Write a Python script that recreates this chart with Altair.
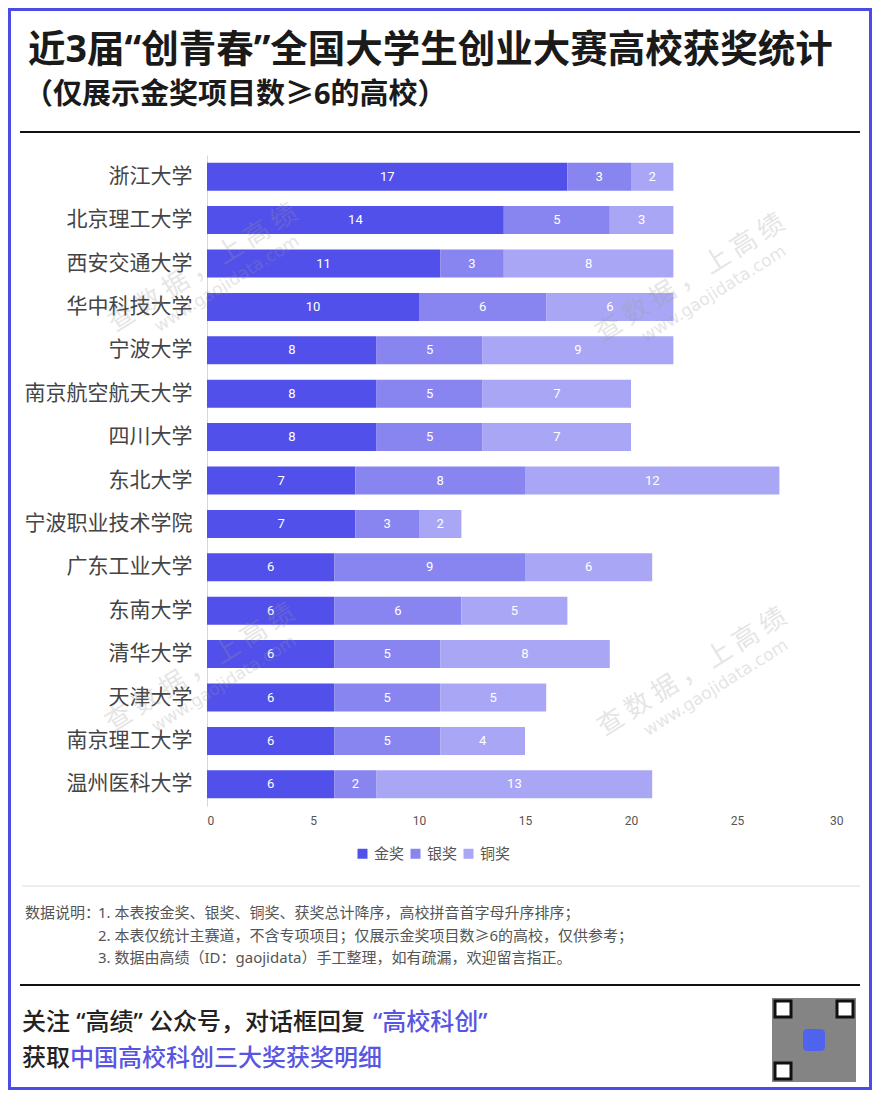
import altair as alt
import pandas as pd

schools = ["浙江大学", "北京理工大学", "西安交通大学", "华中科技大学", "宁波大学",
           "南京航空航天大学", "四川大学", "东北大学", "宁波职业技术学院", "广东工业大学",
           "东南大学", "清华大学", "天津大学", "南京理工大学", "温州医科大学"]
gold = [17, 14, 11, 10, 8, 8, 8, 7, 7, 6, 6, 6, 6, 6, 6]
silver = [3, 5, 3, 6, 5, 5, 5, 8, 3, 9, 6, 5, 5, 5, 2]
bronze = [2, 3, 8, 6, 9, 7, 7, 12, 2, 6, 5, 8, 5, 4, 13]
awards = ["金奖", "银奖", "铜奖"]
colors = ["#5250EB", "#8885F1", "#A9A7F5"]
x_ticks = [0, 5, 10, 15, 20, 25, 30]

title_text = "近3届“创青春”全国大学生创业大赛高校获奖统计"
subtitle_text = "（仅展示金奖项目数≥6的高校）"
notes_head = "数据说明："
notes = ["1. 本表按金奖、银奖、铜奖、获奖总计降序，高校拼音首字母升序排序；",
         "2. 本表仅统计主赛道，不含专项项目；仅展示金奖项目数≥6的高校，仅供参考；",
         "3. 数据由高绩（ID：gaojidata）手工整理，如有疏漏，欢迎留言指正。"]
footer1_black = "关注 “高绩” 公众号，对话框回复"
footer1_blue = "“高校科创”"
footer2_black = "获取"
footer2_blue = "中国高校科创三大奖获奖明细"
wm_main = "查 数 据 ， 上 高 绩"
wm_url = "www.gaojidata.com"

rows = []
for i, s in enumerate(schools):
    for k, (a, vals) in enumerate(zip(awards, [gold, silver, bronze])):
        rows.append({"school": s, "award": a, "value": vals[i], "order": k})
df = pd.DataFrame(rows)

CJK = "Noto Sans CJK SC"
MIX = "'Noto Sans', 'Noto Sans CJK SC'"
NUM = "Roboto"

base = alt.Chart(df).transform_stack(
    stack="value", groupby=["school"], sort=[alt.SortField("order", "ascending")], as_=["v0", "v1"]
).transform_calculate(mid="(datum.v0 + datum.v1) / 2")

yenc = alt.Y("school:N", sort=schools,
             scale=alt.Scale(paddingInner=0.355, paddingOuter=0.1775),
             axis=alt.Axis(domain=True, domainColor="#d6d6d6", domainWidth=1, ticks=False,
                           labelPadding=15, labelFontSize=21, labelFont=CJK, labelColor="#444444",
                           labelLimit=300, title=None))

bars = base.mark_bar().encode(
    x=alt.X("v0:Q", scale=alt.Scale(domain=[0, 30], nice=False),
            axis=alt.Axis(values=x_ticks, domain=False, ticks=False, grid=False, labelPadding=9,
                          labelFontSize=12, labelFont=NUM, labelColor="#555555", title=None)),
    x2="v1:Q",
    y=yenc,
    color=alt.Color("award:N", scale=alt.Scale(domain=awards, range=colors),
                    legend=alt.Legend(orient="none", legendX=148, legendY=691, direction="horizontal",
                                      title=None, symbolType="square", symbolSize=100,
                                      symbolStrokeWidth=0, labelFontSize=15, labelFont=CJK,
                                      labelColor="#555555", columnPadding=3, labelOffset=4)),
)

bar_labels = base.mark_text(color="white", fontSize=13, font=NUM).encode(
    x="mid:Q", y=alt.Y("school:N", sort=schools), text="value:Q"
)


def txt(t, x, y, size, color="#222222", weight="normal", align="left", baseline="alphabetic",
        font=MIX, angle=0, opacity=1.0):
    props = dict(align=align, baseline=baseline, fontSize=size, font=font, color=color,
                 fontWeight=weight, opacity=opacity)
    if angle:
        props["angle"] = angle
    return alt.Chart(pd.DataFrame({"t": [t]})).mark_text(**props).encode(
        x=alt.value(x), y=alt.value(y), text="t:N")


def rule(x1, x2, y, color, width):
    return alt.Chart(pd.DataFrame({"a": [0]})).mark_rule(color=color, strokeWidth=width).encode(
        x=alt.value(x1), x2=alt.value(x2), y=alt.value(y))


def box(x1, x2, y1, y2, fill=None, stroke=None, sw=0, fo=1.0, radius=0):
    props = dict(fillOpacity=fo, strokeWidth=sw, cornerRadius=radius)
    if fill:
        props["fill"] = fill
    if stroke:
        props["stroke"] = stroke
    return alt.Chart(pd.DataFrame({"a": [0]})).mark_rect(**props).encode(
        x=alt.value(x1), x2=alt.value(x2), y=alt.value(y1), y2=alt.value(y2))


# offsets: plot origin is at page (207,155)
OX, OY = 207, 155
BLUE = "#5755E3"

layers = [bars, bar_labels]

# watermarks
wm = []
for cx, cy in [(203, 268), (690, 278), (200, 668), (692, 672)]:
    wm.append(txt(wm_main, cx - OX, cy - OY, 26, color="#999999", align="center", baseline="middle",
                  font=CJK, angle=328, opacity=0.25))
    wm.append(txt(wm_url, cx + 24 - OX, cy + 16 - OY, 17, color="#999999", align="center",
                  baseline="middle", font="DejaVu Sans", angle=328, opacity=0.25))
layers += wm

layers += [
    txt(title_text, 28 - OX, 62 - OY, 37.5, color="#1a1a1a", weight="bold"),
    txt(subtitle_text, 24 - OX, 104 - OY, 29, color="#1a1a1a", weight="bold"),
    rule(20 - OX, 860 - OX, 132 - OY, "#111111", 2),
    rule(22 - OX, 860 - OX, 886 - OY, "#dddddd", 1),
    txt(notes_head, 25 - OX, 918 - OY, 15, color="#555555"),
    txt(notes[0], 98 - OX, 918 - OY, 15, color="#555555"),
    txt(notes[1], 98 - OX, 941 - OY, 15, color="#555555"),
    txt(notes[2], 98 - OX, 963 - OY, 15, color="#555555"),
    rule(20 - OX, 860 - OX, 985 - OY, "#111111", 2),
    txt(footer1_black, 22 - OX, 1030 - OY, 24, color="#222222", weight=500),
    txt(footer1_blue, 373 - OX, 1030 - OY, 24, color=BLUE, weight=500),
    txt(footer2_black, 22 - OX, 1066 - OY, 24, color="#222222", weight=500),
    txt(footer2_blue, 70 - OX, 1066 - OY, 24, color=BLUE, weight=500),
    box(772 - OX, 856 - OX, 998 - OY, 1082 - OY, fill="#6e6e6e", fo=0.85),
    box(775 - OX, 791 - OX, 1001 - OY, 1017 - OY, fill="#ffffff", stroke="#111111", sw=3),
    box(837 - OX, 853 - OX, 1001 - OY, 1017 - OY, fill="#ffffff", stroke="#111111", sw=3),
    box(775 - OX, 791 - OX, 1063 - OY, 1079 - OY, fill="#ffffff", stroke="#111111", sw=3),
    box(803 - OX, 825 - OX, 1029 - OY, 1051 - OY, fill="#4f63ee", radius=4),
    box(-197.5, 663.5, -145.5, 933.5, stroke="#4B4BE8", sw=3, fo=0),
]

chart = alt.layer(*layers).properties(
    width=636, height=651,
    padding={"left": 199, "top": 147, "right": 29, "bottom": 284},
    autosize=alt.AutoSizeParams(type="none"),
    background="white",
).configure_view(strokeWidth=0)

chart.save("out.html", embed_options={"renderer": "svg", "actions": False})
